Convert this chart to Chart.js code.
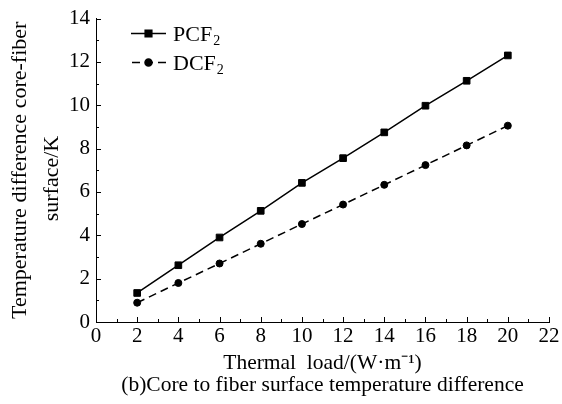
<!DOCTYPE html>
<html>
<head>
<meta charset="utf-8">
<script src="https://cdn.jsdelivr.net/npm/chart.js@4/dist/chart.umd.min.js"></script>
<style>
  html, body { margin: 0; padding: 0; background: #fff; }
  #wrap { width: 562px; height: 404px; }
</style>
</head>
<body>
<div id="wrap"><canvas id="c" width="562" height="404"></canvas></div>
<script>
// Thermal load (W/m) and core-to-fiber-surface temperature difference (K)
const thermalLoad = [2, 4, 6, 8, 10, 12, 14, 16, 18, 20];
const pcf2 = [1.34, 2.62, 3.90, 5.13, 6.42, 7.56, 8.75, 9.98, 11.13, 12.30];
const dcf2 = [0.89, 1.80, 2.70, 3.61, 4.52, 5.42, 6.33, 7.24, 8.15, 9.06];

// Legend names: base text and subscript
const seriesNames = [['PCF', '2'], ['DCF', '2']];

const xTitle = ['Thermal  load/(W\u00B7m\u207B\u00B9)', '(b)Core to fiber surface temperature difference'];
// second line padded so it sits a little lower along the axis
const yTitle = ['Temperature difference core-fiber', 'surface/K   '];

const FONT = '"Liberation Serif", "Times New Roman", serif';

const toPoints = (xs, ys) => xs.map((x, i) => ({ x, y: ys[i] }));

// Inward major/minor tick marks on the two axes
const innerTicks = {
  id: 'innerTicks',
  afterDraw(chart) {
    const ctx = chart.ctx;
    const { x, y } = chart.scales;
    const area = chart.chartArea;
    ctx.save();
    ctx.strokeStyle = '#000';
    ctx.lineWidth = 1;
    ctx.beginPath();
    const xs = x.ticks.map(t => t.value);
    xs.forEach((v, i) => {
      const px = Math.round(x.getPixelForValue(v)) + 0.5;
      ctx.moveTo(px, area.bottom); ctx.lineTo(px, area.bottom - 5);
      if (i < xs.length - 1) {
        const mx = Math.round(x.getPixelForValue((v + xs[i + 1]) / 2)) + 0.5;
        ctx.moveTo(mx, area.bottom); ctx.lineTo(mx, area.bottom - 3);
      }
    });
    const ys = y.ticks.map(t => t.value);
    ys.forEach((v, i) => {
      const py = Math.round(y.getPixelForValue(v)) + 0.5;
      ctx.moveTo(area.left, py); ctx.lineTo(area.left + 5, py);
      if (i < ys.length - 1) {
        const my = Math.round(y.getPixelForValue((v + ys[i + 1]) / 2)) + 0.5;
        ctx.moveTo(area.left, my); ctx.lineTo(area.left + 3, my);
      }
    });
    ctx.stroke();
    ctx.restore();
  }
};

// Legend with line-marker-line sample and subscripted names
const seriesLegend = {
  id: 'seriesLegend',
  afterDraw(chart) {
    const ctx = chart.ctx;
    const rows = [33, 62];
    ctx.save();
    chart.data.datasets.forEach((ds, i) => {
      const y = rows[i];
      ctx.strokeStyle = ds.borderColor;
      ctx.lineWidth = ds.borderWidth;
      ctx.setLineDash(ds.borderDash || []);
      ctx.lineDashOffset = ds.borderDash ? -1 : 0;
      ctx.beginPath();
      ctx.moveTo(131, y + 0.5);
      ctx.lineTo(166, y + 0.5);
      ctx.stroke();
      ctx.setLineDash([]);
      Chart.helpers.drawPoint(ctx, {
        pointStyle: ds.pointStyle, radius: ds.pointRadius, borderWidth: 1
      }, 148.5, y + 0.5);
      ctx.fillStyle = '#000';
      ctx.textBaseline = 'alphabetic';
      ctx.textAlign = 'left';
      ctx.font = '22px ' + FONT;
      const [base, sub] = seriesNames[i];
      ctx.fillText(base, 173, y + 8);
      const w = ctx.measureText(base).width;
      ctx.font = '14px ' + FONT;
      ctx.fillText(sub, 173 + w + 1, y + 12);
    });
    ctx.restore();
  }
};

new Chart(document.getElementById('c'), {
  type: 'line',
  data: {
    datasets: [
      {
        label: 'PCF2',
        data: toPoints(thermalLoad, pcf2),
        borderColor: '#000',
        backgroundColor: '#000',
        borderWidth: 1.5,
        pointStyle: 'rect',
        pointRadius: 4.7,
        pointBorderWidth: 1,
        fill: false,
        tension: 0
      },
      {
        label: 'DCF2',
        data: toPoints(thermalLoad, dcf2),
        borderColor: '#000',
        backgroundColor: '#000',
        borderWidth: 1.5,
        borderDash: [8, 5],
        pointStyle: 'circle',
        pointRadius: 3.5,
        pointBorderWidth: 1,
        fill: false,
        tension: 0
      }
    ]
  },
  options: {
    responsive: false,
    devicePixelRatio: 1,
    animation: false,
    layout: { padding: { top: 14, right: 13, left: 0, bottom: 0 } },
    plugins: { legend: { display: false }, tooltip: { enabled: false } },
    scales: {
      x: {
        type: 'linear',
        min: 0, max: 22,
        afterFit: s => { s.height = 82; },
        ticks: { stepSize: 2, color: '#000', padding: 2, font: { family: FONT, size: 21 }, maxRotation: 0 },
        grid: { drawOnChartArea: false, drawTicks: false },
        border: { display: true, color: '#000', width: 1 },
        title: {
          display: true, text: xTitle, color: '#000',
          font: { family: FONT, size: 21.5, lineHeight: 1.04 },
          padding: { top: 0, bottom: 7 }
        }
      },
      y: {
        type: 'linear',
        min: 0, max: 14,
        afterFit: s => { s.width = 96; },
        ticks: { stepSize: 2, color: '#000', padding: 6, font: { family: FONT, size: 21 } },
        grid: { drawOnChartArea: false, drawTicks: false },
        border: { display: true, color: '#000', width: 1 },
        title: {
          display: true, text: yTitle, color: '#000',
          font: { family: FONT, size: 22, lineHeight: 1.45 },
          padding: { top: 4, bottom: 0 }
        }
      }
    }
  },
  plugins: [innerTicks, seriesLegend]
});
</script>
</body>
</html>
